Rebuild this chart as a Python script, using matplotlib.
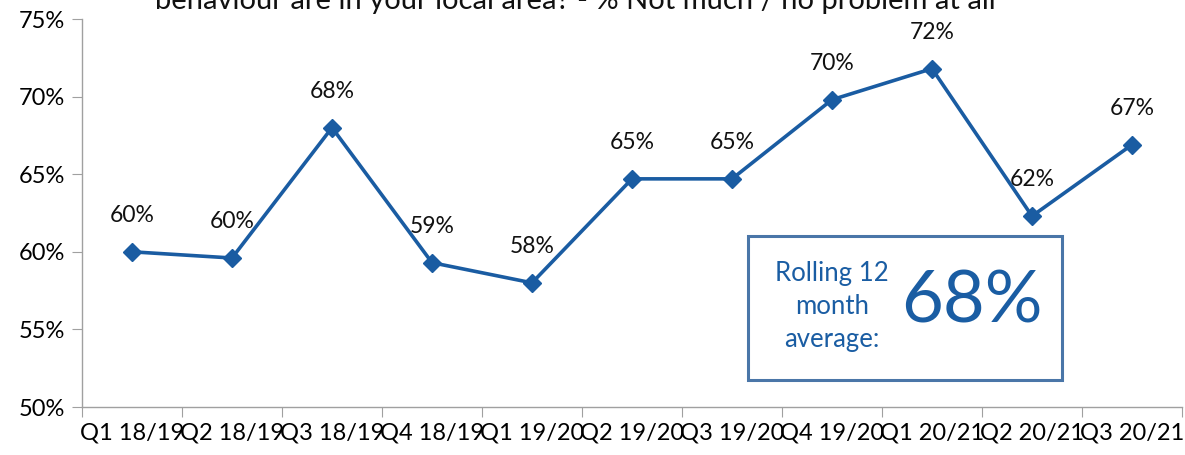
import matplotlib
matplotlib.use("Agg")
import matplotlib.pyplot as plt
from matplotlib.patches import Rectangle

plt.rcParams['font.family'] = ['Lato', 'DejaVu Sans']

quarters = ["Q1 18/19", "Q2 18/19", "Q3 18/19", "Q4 18/19", "Q1 19/20", "Q2 19/20",
            "Q3 19/20", "Q4 19/20", "Q1 20/21", "Q2 20/21", "Q3 20/21"]
pct_no_problem = [60.0, 59.6, 68.0, 59.3, 58.0, 64.7, 64.7, 69.8, 71.8, 62.3, 66.9]
y_ticks = [50, 55, 60, 65, 70, 75]
rolling_avg = 68

title = "behaviour are in your local area? - % Not much / no problem at all"
line_color = "#1A5CA2"
box_edge = "#4A76A8"
text_blue = "#1A5DA3"

W, H = 1185, 455
fig = plt.figure(figsize=(W / 100, H / 100), dpi=100)
ax = fig.add_axes([82 / W, (H - 407) / H, 1100 / W, 388 / H])

x = list(range(len(quarters)))
ax.plot(x, pct_no_problem, color=line_color, lw=2.6, marker="D", ms=9,
        markerfacecolor=line_color, markeredgecolor=line_color, zorder=3)

for xi, v in zip(x, pct_no_problem):
    ax.annotate(f"{v:.0f}%", (xi, v), xytext=(0, 26), textcoords="offset points",
                ha="center", va="center", fontsize=16.5, color="#111111")

ax.set_xlim(-0.5, len(quarters) - 0.5)
ax.set_ylim(50, 75)
ax.set_yticks(y_ticks)
ax.set_yticklabels([f"{t}%" for t in y_ticks], fontsize=17)
ax.set_xticks([i - 0.5 for i in range(len(quarters) + 1)])
ax.set_xticklabels([])
ax.set_xticks(x, minor=True)
ax.set_xticklabels(quarters, minor=True, fontsize=17)
ax.tick_params(axis="x", which="minor", length=0, pad=11)
ax.tick_params(axis="x", which="major", length=7, color="#A0A0A0", direction="out")
ax.tick_params(axis="y", length=7, color="#A0A0A0", direction="out", pad=5)

for side in ["top", "right"]:
    ax.spines[side].set_visible(False)
for side in ["left", "bottom"]:
    ax.spines[side].set_color("#A0A0A0")
    ax.spines[side].set_linewidth(1.0)

# Rolling average callout box
bx0, by0, bx1, by1 = 748, 236, 1062, 380
fig.patches.append(Rectangle((bx0 / W, 1 - by1 / H), (bx1 - bx0) / W, (by1 - by0) / H,
                             transform=fig.transFigure, facecolor="white",
                             edgecolor=box_edge, lw=2.2, zorder=5))
fig.text(832 / W, 1 - 306 / H, "Rolling 12\nmonth\naverage:", ha="center", va="center",
         fontsize=18.5, color=text_blue, linespacing=1.4, zorder=6)
fig.text(972 / W, 1 - 302 / H, f"{rolling_avg}%", ha="center", va="center",
         fontsize=52, color=text_blue, zorder=6)

fig.text(575 / W, 1 - 1 / H, title, ha="center", va="center", fontsize=21, color="#111111")

fig.savefig("out.png", dpi=100)
